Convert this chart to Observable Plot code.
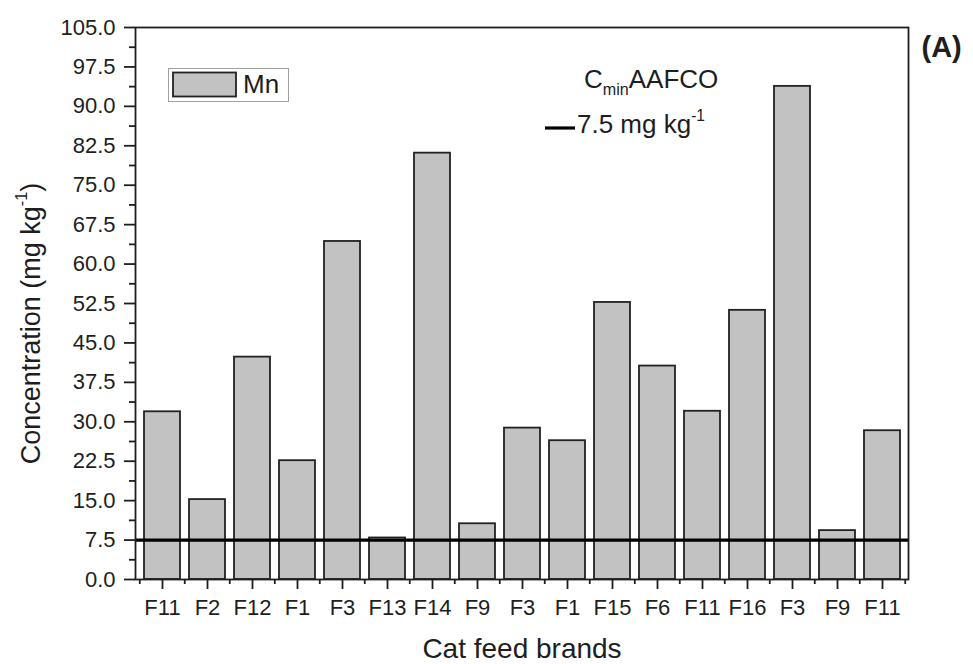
<!DOCTYPE html>
<html>
<head>
<meta charset="utf-8">
<script src="https://cdn.jsdelivr.net/npm/d3@7"></script>
<script src="https://cdn.jsdelivr.net/npm/@observablehq/plot@0.6"></script>
<style>
  html, body { margin: 0; padding: 0; background: #fff; }
  #chart svg { display: block; }
</style>
</head>
<body>
<div id="chart"></div>
<script>
// Manganese concentration measured in each cat feed sample
const brands = ["F11", "F2", "F12", "F1", "F3", "F13", "F14", "F9", "F3", "F1", "F15", "F6", "F11", "F16", "F3", "F9", "F11"];
const mn = [31.9, 15.2, 42.3, 22.6, 64.3, 7.9, 81.1, 10.6, 28.8, 26.4, 52.7, 40.6, 32.0, 51.2, 93.8, 9.3, 28.3];
const yTickValues = [0, 7.5, 15, 22.5, 30, 37.5, 45, 52.5, 60, 67.5, 75, 82.5, 90, 97.5, 105];
const aafcoMin = 7.5;   // AAFCO minimum, mg/kg
const seriesName = "Mn";
const xTitle = "Cat feed brands";
const yTitle = "Concentration (mg kg-1)";
const panelTag = "(A)";

const W = 973, H = 664;
const M = {top: 27, right: 65, bottom: 85, left: 135};
const plotW = W - M.left - M.right;
const plotH = H - M.top - M.bottom;
const padIn = 0.2, padOut = 0.1;
const step = plotW / (brands.length - padIn + 2 * padOut);

const barFill = "#c2c2c2";
const ink = "#1e1e1e";
const font = "'Liberation Sans', Arial, Helvetica, sans-serif";

const rows = brands.map((b, i) => ({i, brand: b, value: mn[i]}));
const idx = d3.range(brands.length);
const yMinor = yTickValues.slice(1).map(v => v - 3.75);

const chart = Plot.plot({
  width: W,
  height: H,
  marginTop: M.top,
  marginRight: M.right,
  marginBottom: M.bottom,
  marginLeft: M.left,
  style: {fontFamily: font, fontSize: "22px", color: ink, background: "#fff", overflow: "visible"},
  x: {type: "band", domain: idx, paddingInner: padIn, paddingOuter: padOut},
  y: {domain: [0, 105]},
  marks: [
    Plot.barY(rows, {x: "i", y: "value", fill: barFill, stroke: "#222", strokeWidth: 1.8}),
    Plot.ruleY([aafcoMin], {stroke: "#000", strokeWidth: 3.2}),
    Plot.frame({stroke: ink, strokeWidth: 1.8}),
    // category ticks + labels
    Plot.axisX({tickSize: 10, tickPadding: 10, tickFormat: i => brands[i], label: null, fontSize: 22, strokeWidth: 1.8}),
    // short ticks at band boundaries
    Plot.tickX(idx, {x: d => d, dx: -step / 2, insetTop: plotH, insetBottom: -5, stroke: ink, strokeWidth: 1.8}),
    Plot.tickX([idx[idx.length - 1]], {x: d => d, dx: step / 2, insetTop: plotH, insetBottom: -5, stroke: ink, strokeWidth: 1.8}),
    // value axis: labelled majors and short minors
    Plot.axisY({ticks: yTickValues, tickSize: 11, tickPadding: 9, tickFormat: d3.format(".1f"), label: null, fontSize: 22, strokeWidth: 1.8}),
    Plot.tickY(yMinor, {y: d => d, insetLeft: -6, insetRight: plotW, stroke: ink, strokeWidth: 1.8}),
    // axis titles and panel tag
    Plot.text([xTitle], {frameAnchor: "bottom", dy: 78, lineAnchor: "bottom", fontSize: 28, fill: ink}),
    Plot.text([yTitle], {frameAnchor: "left", rotate: -90, dx: -96, dy: 20, lineAnchor: "bottom", textAnchor: "middle", fontSize: 27, fill: ink}),
    Plot.text([panelTag], {frameAnchor: "top-right", dx: 13, dy: 29, textAnchor: "start", lineAnchor: "bottom", fontSize: 29, fontWeight: "bold", fill: ink})
  ]
});

document.getElementById("chart").append(chart);

const svg = d3.select(chart);

// superscript on the unit in the y title
svg.selectAll("text").filter(function() { return this.textContent === yTitle; }).each(function() {
  const t = d3.select(this);
  t.text(null);
  t.append("tspan").text("Concentration (mg kg");
  t.append("tspan").attr("font-size", "60%").attr("dy", "-0.75em").text("-1");
  t.append("tspan").attr("dy", "0.45em").text(")");
});

// series legend (top-left of the frame)
const lg = svg.append("g").attr("transform", `translate(${M.left + 33},${M.top + 41})`)
  .attr("text-anchor", "start");
lg.append("rect").attr("x", 0.5).attr("y", 0.5).attr("width", 120).attr("height", 33)
  .attr("fill", "#fff").attr("stroke", "#a0a0a0").attr("stroke-width", 1);
lg.append("rect").attr("x", 5).attr("y", 4.5).attr("width", 63).attr("height", 24)
  .attr("fill", barFill).attr("stroke", "#222").attr("stroke-width", 1.8);
lg.append("text").attr("x", 75).attr("y", 24.5).attr("font-family", font).attr("font-size", 26)
  .attr("fill", ink).text(seriesName);

// AAFCO minimum legend (top-right of the frame)
const ag = svg.append("g").attr("transform", `translate(${M.left + 410},${M.top})`)
  .attr("text-anchor", "start");
const head = ag.append("text").attr("x", 39).attr("y", 61).attr("font-family", font).attr("font-size", 26).attr("fill", ink);
head.append("tspan").text("C");
head.append("tspan").attr("font-size", "62%").attr("dy", "0.45em").text("min");
head.append("tspan").attr("dy", "-0.28em").text("AAFCO");
ag.append("line").attr("x1", 0).attr("x2", 30).attr("y1", 101).attr("y2", 101)
  .attr("stroke", "#000").attr("stroke-width", 3.2);
const val = ag.append("text").attr("x", 32).attr("y", 106).attr("font-family", font).attr("font-size", 26).attr("fill", ink);
val.append("tspan").text(`${aafcoMin} mg kg`);
val.append("tspan").attr("font-size", "60%").attr("dy", "-0.75em").text("-1");
</script>
</body>
</html>
